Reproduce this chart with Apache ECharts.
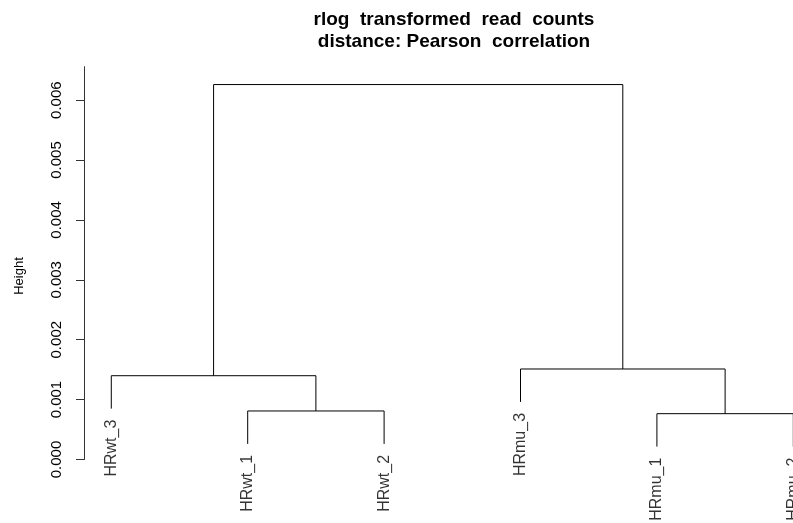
<!DOCTYPE html>
<html>
<head>
<meta charset="utf-8">
<title>rlog transformed read counts - dendrogram</title>
<script src="https://cdn.jsdelivr.net/npm/echarts@6/dist/echarts.min.js"></script>
<style>
  html, body { margin: 0; padding: 0; background: #ffffff; }
  #chart { width: 793px; height: 523px; }
</style>
</head>
<body>
<div id="chart"></div>
<script>
// Leaves in plotting order (left to right)
const leafLabels = ['HRwt_3', 'HRwt_1', 'HRwt_2', 'HRmu_3', 'HRmu_1', 'HRmu_2'];

// hclust-style merge table: negative = leaf (1-based index into leafLabels),
// positive = result of an earlier merge (1-based row)
const mergeLeft   = [-2, -5, -1, -4, 3];
const mergeRight  = [-3, -6,  1,  2, 4];
const mergeHeight = [0.00081, 0.000765, 0.001399, 0.001511, 0.00626];

// Y axis tick values
const yTicks = [0, 0.001, 0.002, 0.003, 0.004, 0.005, 0.006];

const titleText = 'rlog  transformed  read  counts\ndistance: Pearson  correlation';
const yAxisTitle = 'Height';

// Leaf lines hang below their parent merge by 10% of the height range
const hangFrac = 0.1;
const hang = hangFrac * (Math.max(...mergeHeight) - Math.min(...mergeHeight));

// Horizontal position of each node
function nodeX(ref, xs) {
  return ref < 0 ? (-ref) : xs[ref - 1];
}
function nodeY(ref, parentHeight) {
  return ref < 0 ? parentHeight - hang : mergeHeight[ref - 1];
}

const mergeX = [];
const branchSeries = [];
const leafPoints = [];
for (let i = 0; i < mergeHeight.length; i++) {
  const l = mergeLeft[i], r = mergeRight[i], h = mergeHeight[i];
  const xl = nodeX(l, mergeX), xr = nodeX(r, mergeX);
  mergeX.push((xl + xr) / 2);
  const yl = nodeY(l, h), yr = nodeY(r, h);
  branchSeries.push({
    type: 'line',
    data: [[xl, yl], [xl, h], [xr, h], [xr, yr]],
    showSymbol: false,
    symbol: 'none',
    silent: true,
    lineStyle: { color: '#000', width: 1 },
    animation: false,
    z: 3
  });
  if (l < 0) leafPoints.push({ name: leafLabels[-l - 1], value: [xl, yl] });
  if (r < 0) leafPoints.push({ name: leafLabels[-r - 1], value: [xr, yr] });
}

const FONT = '"Liberation Sans", Arial, Helvetica, sans-serif';

const chart = echarts.init(document.getElementById('chart'), null, { renderer: 'canvas' });

chart.setOption({
  backgroundColor: '#ffffff',
  animation: false,
  title: {
    text: titleText,
    left: 449,
    top: 4,
    textAlign: 'center',
    textStyle: {
      fontFamily: FONT,
      fontSize: 19,
      fontWeight: 'bold',
      color: '#000',
      lineHeight: 22
    }
  },
  grid: {
    left: 84,
    top: 66.7,
    width: 736.6,
    height: 392.8,
    containLabel: false,
    outerBoundsMode: 'none'
  },
  xAxis: {
    type: 'value',
    min: 0.8,
    max: 6.2,
    show: false
  },
  yAxis: {
    type: 'value',
    min: 0,
    max: 0.006558,
    axisLine: { show: true, lineStyle: { color: '#333', width: 1 } },
    axisTick: {
      show: true,
      length: 8,
      customValues: yTicks,
      lineStyle: { color: '#333', width: 1 }
    },
    axisLabel: {
      show: true,
      rotate: 90,
      margin: 20,
      customValues: yTicks,
      formatter: v => v.toFixed(3),
      fontFamily: FONT,
      fontSize: 15,
      color: '#000'
    },
    splitLine: { show: false }
  },
  graphic: [{
    type: 'text',
    x: 19,
    y: 276,
    rotation: Math.PI / 2,
    style: {
      text: yAxisTitle,
      fontFamily: FONT,
      fontSize: 13,
      fill: '#000',
      align: 'center',
      verticalAlign: 'middle'
    }
  }],
  series: branchSeries.concat([{
    type: 'scatter',
    data: leafPoints,
    symbol: 'circle',
    symbolSize: 0.1,
    silent: true,
    itemStyle: { color: 'rgba(0,0,0,0)' },
    label: {
      show: true,
      formatter: p => p.name,
      position: 'bottom',
      distance: 11,
      rotate: 90,
      align: 'right',
      verticalAlign: 'middle',
      fontFamily: FONT,
      fontSize: 16,
      color: '#000'
    },
    labelLayout: { hideOverlap: false },
    animation: false,
    z: 4
  }])
});
</script>
</body>
</html>
